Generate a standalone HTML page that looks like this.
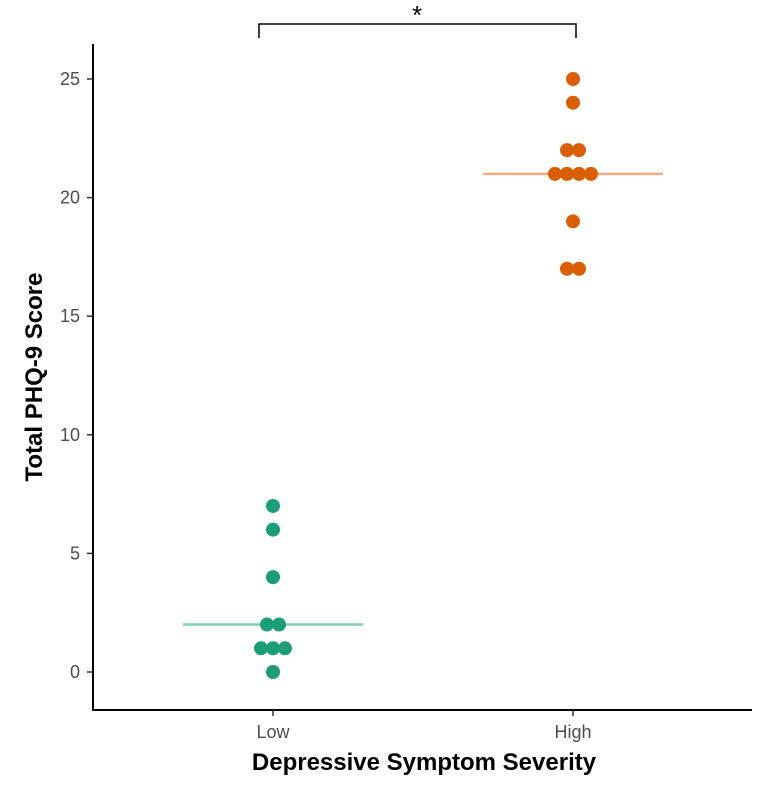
<!DOCTYPE html>
<html><head><meta charset="utf-8"><style>body{margin:0;background:#fff}svg{display:block;font-family:"Liberation Sans",sans-serif}</style></head>
<body>
<svg id="chart" width="768" height="797">
<g id="axes"></g><g id="marks"></g>
<path d="M259,38 V24 H576 V38" fill="none" stroke="#000" stroke-width="1.5"/>
<text x="417" y="24" text-anchor="middle" font-size="26">*</text>
<text x="424" y="770" text-anchor="middle" font-size="24" font-weight="bold">Depressive Symptom Severity</text>
<text transform="translate(42,377) rotate(-90)" text-anchor="middle" font-size="24" font-weight="bold">Total PHQ-9 Score</text>
</svg>
<script>
const categories = ["Low","High"];
const lowValues = [7,6,4,2,2,1,1,1,0];
const highValues = [25,24,22,22,21,21,21,21,19,17,17];
const medians = [2,21];
const yTicks = [0,5,10,15,20,25];
const dotColors = ["#1b9e77","#d95f02"];
const lineColors = ["#80d0b4","#f2aa7e"];
const NS="http://www.w3.org/2000/svg";
const yScale = v => 672 - 23.72*v;
const xScale = i => 273 + 300*i;
function mk(tag, attrs, parent){const e=document.createElementNS(NS,tag);for(const k in attrs)e.setAttribute(k,attrs[k]);parent.appendChild(e);return e;}
const axes=document.getElementById('axes'), marks=document.getElementById('marks');
let a=mk('line',{x1:93,y1:44,x2:93,y2:711,stroke:'#000','stroke-width':2},axes);


a=mk('line',{x1:92,y1:710,x2:752,y2:710,stroke:'#000','stroke-width':2},axes);


yTicks.forEach(t=>{
  const y=yScale(t);
  const tk=mk('line',{x1:87,y1:y,x2:93,y2:y,stroke:'#333','stroke-width':1.5},axes);
  
  
  const tx=mk('text',{x:80,y:y+6,'text-anchor':'end','font-size':18,fill:'#4d4d4d'},axes);
  tx.textContent=t;
  
  
});
categories.forEach((c,i)=>{
  const x=xScale(i);
  const tk=mk('line',{x1:x,y1:710,x2:x,y2:716,stroke:'#333','stroke-width':1.5},axes);
  
  
  const tx=mk('text',{x:x,y:738,'text-anchor':'middle','font-size':18,fill:'#4d4d4d'},axes);
  tx.textContent=c;
  
  
  const m=mk('line',{x1:x-90,x2:x+90,y1:yScale(medians[i]),y2:yScale(medians[i]),stroke:lineColors[i],'stroke-width':2.5},marks);
  
  
});
[lowValues,highValues].forEach((vals,i)=>{
  const counts={};vals.forEach(v=>counts[v]=(counts[v]||0)+1);
  const seen={};
  vals.forEach(v=>{
    const n=counts[v],k=seen[v]=(seen[v]||0);seen[v]++;
    const cx=xScale(i)+(k-(n-1)/2)*12;
    const d=mk('circle',{cx:cx,cy:yScale(v),r:7,fill:dotColors[i]},marks);
    
    
  });
});
</script>
</body></html>
